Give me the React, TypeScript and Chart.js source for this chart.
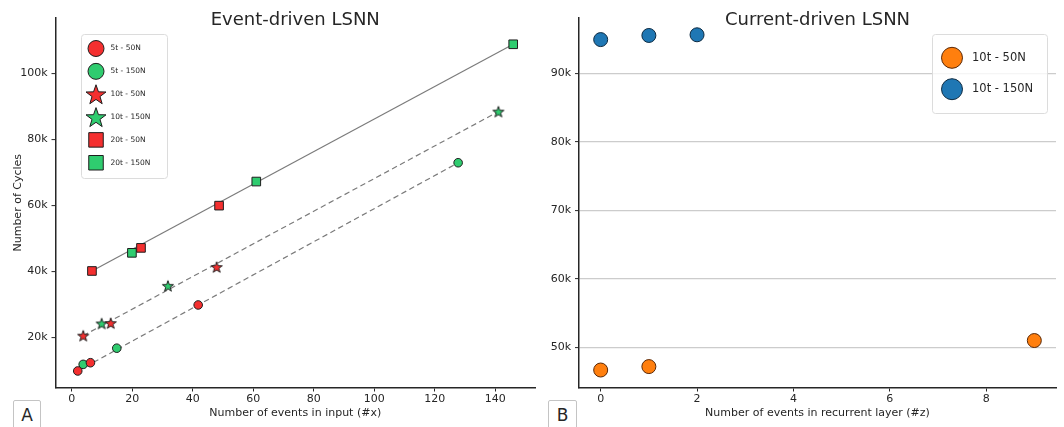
import React, { useEffect, useRef } from 'react';
import { Chart, registerables } from 'chart.js';

Chart.register(...registerables);

const FONT = '"DejaVu Sans", Verdana, sans-serif';
const INK = '#262626';
const RED = '#f42f2f';
const GREEN = '#2fcc6f';
const BLUE = '#1f77b4';
const ORANGE = '#ff7f0e';

// ---------------- Panel A : Event-driven LSNN ----------------
const titleA = 'Event-driven LSNN';
const xLabelA = 'Number of events in input (#x)';
const yLabelA = 'Number of Cycles';
const xTicksA = [0, 20, 40, 60, 80, 100, 120, 140];
const yTicksA = [20000, 40000, 60000, 80000, 100000];

const x5t50N = [2.0, 6.2, 41.8];
const y5t50N = [9800, 12300, 29800];
const x5t150N = [3.8, 14.9, 127.7];
const y5t150N = [11800, 16700, 72900];
const x10t50N = [3.8, 12.9, 47.9];
const y10t50N = [20500, 24300, 41300];
const x10t150N = [9.9, 31.8, 141.0];
const y10t150N = [24200, 35600, 88400];
const x20t50N = [6.7, 22.9, 48.7];
const y20t50N = [40100, 47100, 59900];
const x20t150N = [19.9, 61.0, 145.9];
const y20t150N = [45600, 67200, 108800];

// fitted trend lines (end points)
const fit5tX = [2.0, 127.7];
const fit5tY = [9800, 72900];
const fit10tX = [3.8, 141.0];
const fit10tY = [20500, 88400];
const fit20tX = [6.7, 145.9];
const fit20tY = [40100, 108800];

// ---------------- Panel B : Current-driven LSNN ----------------
const titleB = 'Current-driven LSNN';
const xLabelB = 'Number of events in recurrent layer (#z)';
const xTicksB = [0, 2, 4, 6, 8];
const yTicksB = [50000, 60000, 70000, 80000, 90000];
const z10t50N = [0, 1, 9];
const c10t50N = [46700, 47200, 51000];
const z10t150N = [0, 1, 2];
const c10t150N = [94900, 95500, 95600];

type Shape = 'circle' | 'star' | 'square';

const seriesA: { label: string; x: number[]; y: number[]; color: string; shape: Shape }[] = [
  { label: '5t - 50N', x: x5t50N, y: y5t50N, color: RED, shape: 'circle' },
  { label: '5t - 150N', x: x5t150N, y: y5t150N, color: GREEN, shape: 'circle' },
  { label: '10t - 50N', x: x10t50N, y: y10t50N, color: RED, shape: 'star' },
  { label: '10t - 150N', x: x10t150N, y: y10t150N, color: GREEN, shape: 'star' },
  { label: '20t - 50N', x: x20t50N, y: y20t50N, color: RED, shape: 'square' },
  { label: '20t - 150N', x: x20t150N, y: y20t150N, color: GREEN, shape: 'square' },
];

const fitsA = [
  { x: fit5tX, y: fit5tY, dashed: true },
  { x: fit10tX, y: fit10tY, dashed: true },
  { x: fit20tX, y: fit20tY, dashed: false },
];

const seriesB = [
  { label: '10t - 50N', x: z10t50N, y: c10t50N, color: ORANGE, edge: '#5a2806' },
  { label: '10t - 150N', x: z10t150N, y: c10t150N, color: BLUE, edge: '#0c2a42' },
];

const pts = (xs: number[], ys: number[]) => xs.map((v, i) => ({ x: v, y: ys[i] }));

function starPath(ctx: CanvasRenderingContext2D, cx: number, cy: number, R: number, r: number) {
  ctx.beginPath();
  for (let i = 0; i < 10; i++) {
    const a = -Math.PI / 2 + (i * Math.PI) / 5;
    const rad = i % 2 === 0 ? R : r;
    const px = cx + rad * Math.cos(a);
    const py = cy + rad * Math.sin(a);
    if (i === 0) ctx.moveTo(px, py);
    else ctx.lineTo(px, py);
  }
  ctx.closePath();
}

function makeStar(fill: string, size: number, R: number) {
  const c = document.createElement('canvas');
  c.width = size;
  c.height = size;
  const ctx = c.getContext('2d')!;
  starPath(ctx, size / 2, size / 2 + R * 0.1, R, R * 0.4);
  ctx.fillStyle = fill;
  ctx.fill();
  ctx.lineWidth = 1;
  ctx.lineJoin = 'miter';
  ctx.strokeStyle = '#1e1e1e';
  ctx.stroke();
  return c;
}

function drawMarker(ctx: CanvasRenderingContext2D, shape: Shape, x: number, y: number, color: string, size: number) {
  ctx.save();
  ctx.fillStyle = color;
  ctx.strokeStyle = '#1e1e1e';
  ctx.lineWidth = 1;
  if (shape === 'circle') {
    ctx.beginPath();
    ctx.arc(x, y, size / 2, 0, Math.PI * 2);
  } else if (shape === 'square') {
    ctx.beginPath();
    ctx.rect(x - size / 2, y - size / 2, size, size);
  } else {
    starPath(ctx, x, y + size * 0.05, size / 2, size * 0.2);
  }
  ctx.fill();
  ctx.stroke();
  ctx.restore();
}

function roundRect(ctx: CanvasRenderingContext2D, x: number, y: number, w: number, h: number, r: number) {
  ctx.beginPath();
  ctx.moveTo(x + r, y);
  ctx.lineTo(x + w - r, y);
  ctx.arcTo(x + w, y, x + w, y + r, r);
  ctx.lineTo(x + w, y + h - r);
  ctx.arcTo(x + w, y + h, x + w - r, y + h, r);
  ctx.lineTo(x + r, y + h);
  ctx.arcTo(x, y + h, x, y + h - r, r);
  ctx.lineTo(x, y + r);
  ctx.arcTo(x, y, x + r, y, r);
  ctx.closePath();
}

function titlePlugin(text: string) {
  return {
    id: 'panelTitle',
    afterDraw(chart: any) {
      const { ctx, chartArea } = chart;
      ctx.save();
      ctx.font = `18px ${FONT}`;
      ctx.fillStyle = INK;
      ctx.textAlign = 'center';
      ctx.textBaseline = 'alphabetic';
      ctx.fillText(text, (chartArea.left + chartArea.right) / 2, 24.5);
      ctx.restore();
    },
  };
}

const legendA = {
  id: 'legendA',
  afterDraw(chart: any) {
    const ctx: CanvasRenderingContext2D = chart.ctx;
    ctx.save();
    roundRect(ctx, 81.5, 34.5, 86, 144, 3);
    ctx.fillStyle = 'rgba(255,255,255,0.85)';
    ctx.fill();
    ctx.strokeStyle = '#dcdcdc';
    ctx.lineWidth = 1;
    ctx.stroke();
    seriesA.forEach((s, i) => {
      const y = 48.5 + i * 22.85;
      const size = s.shape === 'circle' ? 16 : s.shape === 'square' ? 14.5 : 21;
      drawMarker(ctx, s.shape, 96, y, s.color, size);
      ctx.font = `7.5px ${FONT}`;
      ctx.fillStyle = INK;
      ctx.textAlign = 'left';
      ctx.textBaseline = 'middle';
      ctx.fillText(s.label, 110.5, y);
    });
    ctx.restore();
  },
};

const legendB = {
  id: 'legendB',
  afterDraw(chart: any) {
    const ctx: CanvasRenderingContext2D = chart.ctx;
    ctx.save();
    roundRect(ctx, 392.5, 34.5, 115, 79, 3);
    ctx.fillStyle = 'rgba(255,255,255,0.8)';
    ctx.fill();
    ctx.strokeStyle = '#dcdcdc';
    ctx.lineWidth = 1;
    ctx.stroke();
    seriesB.forEach((s, i) => {
      const y = 57.8 + i * 31.4;
      ctx.beginPath();
      ctx.arc(412, y, 10.5, 0, Math.PI * 2);
      ctx.fillStyle = s.color;
      ctx.fill();
      ctx.strokeStyle = s.edge;
      ctx.lineWidth = 1;
      ctx.stroke();
      ctx.font = `11.5px ${FONT}`;
      ctx.fillStyle = INK;
      ctx.textAlign = 'left';
      ctx.textBaseline = 'middle';
      ctx.fillText(s.label, 432, y);
    });
    ctx.restore();
  },
};

const tickFont = { family: FONT, size: 11 };
const kLabel = (v: any) => `${Math.round(Number(v) / 1000)}k`;

function axisX(min: number, max: number, ticks: number[], label: string) {
  return {
    type: 'linear',
    min,
    max,
    afterBuildTicks: (s: any) => {
      s.ticks = ticks.map((v) => ({ value: v }));
    },
    afterFit: (s: any) => {
      s.height = 39.5;
    },
    grid: { display: true, drawOnChartArea: false, drawTicks: true, tickLength: 4, tickColor: INK, tickWidth: 1 },
    border: { display: true, color: INK, width: 1.5 },
    ticks: { color: INK, font: tickFont, padding: 1, maxRotation: 0, autoSkip: false },
    title: { display: true, text: label, color: INK, font: { family: FONT, size: 11 }, padding: { top: 0, bottom: 7 } },
  };
}

function axisY(min: number, max: number, ticks: number[], width: number, grid: boolean, label?: string) {
  return {
    type: 'linear',
    min,
    max,
    afterBuildTicks: (s: any) => {
      s.ticks = ticks.map((v) => ({ value: v }));
    },
    afterFit: (s: any) => {
      s.width = width;
    },
    grid: {
      display: true,
      drawOnChartArea: grid,
      color: '#cccccc',
      lineWidth: 1.2,
      drawTicks: true,
      tickLength: 4,
      tickColor: INK,
      tickWidth: 1,
    },
    border: { display: true, color: INK, width: 1.5 },
    ticks: { color: INK, font: tickFont, padding: 4, autoSkip: false, callback: kLabel },
    title: label
      ? { display: true, text: label, color: INK, font: { family: FONT, size: 11 }, padding: { top: 11.7, bottom: 0 } }
      : { display: false },
  };
}

function configA(): any {
  const datasets: any[] = [
    ...fitsA.map((f) => ({
      label: '',
      data: pts(f.x, f.y),
      showLine: true,
      borderColor: '#7b7b7b',
      borderWidth: 1.2,
      borderDash: f.dashed ? [5.5, 3.5] : [],
      pointRadius: 0,
      fill: false,
      order: 10,
    })),
    ...seriesA.map((s) => ({
      label: s.label,
      data: pts(s.x, s.y),
      showLine: false,
      pointStyle: s.shape === 'circle' ? 'circle' : s.shape === 'square' ? 'rect' : makeStar(s.color, 14, 5.8),
      pointRadius: s.shape === 'circle' ? 4.3 : s.shape === 'square' ? 6.1 : 5,
      backgroundColor: s.color,
      borderColor: '#1e1e1e',
      borderWidth: 1,
      order: 0,
    })),
  ];
  return {
    type: 'scatter',
    data: { datasets },
    options: {
      responsive: false,
      animation: false,
      devicePixelRatio: 1,
      events: [],
      layout: { padding: { top: 18, right: 10, left: 0, bottom: 0 } },
      plugins: { legend: { display: false }, tooltip: { enabled: false }, title: { display: false } },
      scales: {
        x: axisX(-5.35, 153.1, xTicksA, xLabelA),
        y: axisY(4790, 116760, yTicksA, 55.5, false, yLabelA),
      },
    },
    plugins: [titlePlugin(titleA), legendA],
  };
}

function configB(): any {
  const datasets = seriesB.map((s) => ({
    label: s.label,
    data: pts(s.x, s.y),
    showLine: false,
    pointStyle: 'circle',
    pointRadius: 7,
    backgroundColor: s.color,
    borderColor: s.edge,
    borderWidth: 1,
  }));
  return {
    type: 'scatter',
    data: { datasets },
    options: {
      responsive: false,
      animation: false,
      devicePixelRatio: 1,
      events: [],
      layout: { padding: { top: 18, right: 4, left: 0, bottom: 0 } },
      plugins: { legend: { display: false }, tooltip: { enabled: false }, title: { display: false } },
      scales: {
        x: axisX(-0.45, 9.45, xTicksB, xLabelB),
        y: axisY(44150, 98050, yTicksB, 39, true),
      },
    },
    plugins: [titlePlugin(titleB), legendB],
  };
}

const panelBox = (left: number, top: number, width: number, letter: string) => (
  <div
    style={{
      position: 'absolute',
      left,
      top,
      width,
      height: 40,
      boxSizing: 'border-box',
      border: '1px solid #c4c4c4',
      borderRadius: 2,
      background: '#fff',
    }}
  >
    <div
      style={{
        position: 'absolute',
        left: 0,
        right: 0,
        top: 6,
        textAlign: 'center',
        fontFamily: FONT,
        fontSize: 17,
        lineHeight: '17px',
        color: INK,
      }}
    >
      {letter}
    </div>
  </div>
);

export default function App() {
  const refA = useRef<HTMLCanvasElement>(null);
  const refB = useRef<HTMLCanvasElement>(null);
  useEffect(() => {
    const a = new Chart(refA.current!, configA());
    const b = new Chart(refB.current!, configB());
    return () => {
      a.destroy();
      b.destroy();
    };
  }, []);
  return (
    <div
      style={{
        position: 'fixed',
        left: 0,
        top: 0,
        width: 1064,
        height: 427,
        background: '#fff',
        overflow: 'hidden',
      }}
    >
      <canvas
        ref={refA}
        width={545}
        height={427}
        style={{ position: 'absolute', left: 0, top: 0, width: 545, height: 427, display: 'block' }}
      />
      <canvas
        ref={refB}
        width={524}
        height={427}
        style={{ position: 'absolute', left: 540, top: 0, width: 524, height: 427, display: 'block' }}
      />
      {panelBox(13, 400, 28, 'A')}
      {panelBox(548, 400, 29, 'B')}
    </div>
  );
}
